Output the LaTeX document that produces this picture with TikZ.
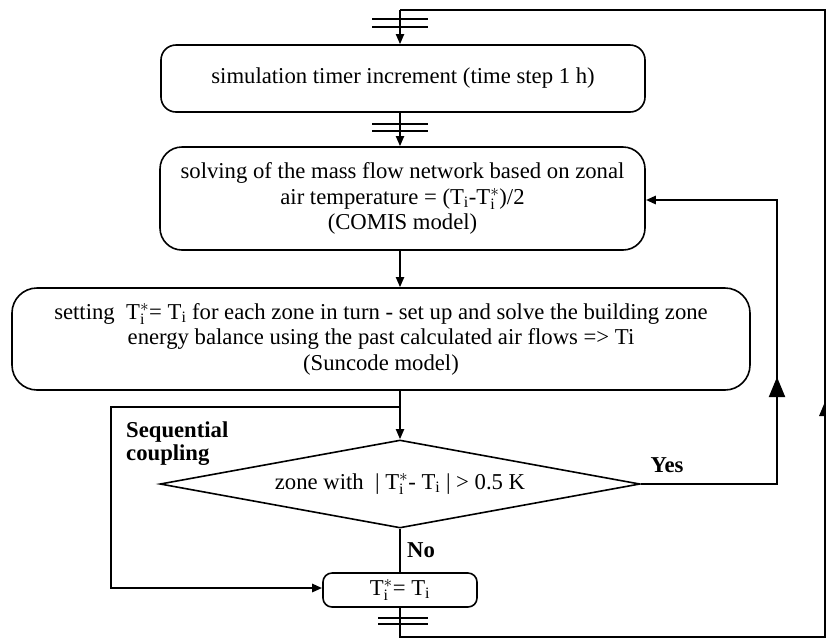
\documentclass[tikz,border=0pt]{standalone}
\usepackage{fontspec}
\setmainfont{Liberation Serif}
\usetikzlibrary{arrows.meta,shapes.geometric}
\newcommand\Tis{$\mathrm{T}_{\mathrm{i}}^{*}$}
\newcommand\Ti{$\mathrm{T}_{\mathrm{i}}$}
\begin{document}
\begin{tikzpicture}[x=1pt,y=-1pt,
  every node/.style={font=\fontsize{22.7}{25.5}\selectfont},
  box/.style={draw,line width=1.6pt,rounded corners=#1,inner sep=0pt,align=center},
  box/.default=20pt,
  conn/.style={line width=1.8pt},
  bold conn/.style={line width=2.6pt},
  arr/.style={-{Triangle[length=10pt,width=8pt]}},
  brk/.style={line width=1.3pt},
  lbl/.style={font=\fontsize{22.7}{23}\selectfont\bfseries,inner sep=0pt,align=left}]
\useasboundingbox (0,0) rectangle (826,641);
% boxes
\node[box=15pt,minimum width=484pt,minimum height=67pt] (b1) at (403,78.5)
  {simulation timer increment (time step 1 h)};
\node[box=22pt,minimum width=485pt,minimum height=103pt] (b2) at (402.5,198.5)
  {solving of the mass flow network based on zonal\\[0.5pt]
   air temperature = (\Ti-\Tis)/2\\
   (COMIS model)};
\node[box=25pt,minimum width=738pt,minimum height=102pt] (b3) at (381,339)
  {setting \ \Tis= \Ti\ for each zone in turn - set up and solve the building zone\\
   energy balance using the past calculated air flows => Ti\\
   (Suncode model)};
\node[draw,line width=1.6pt,diamond,shape aspect=5.45,minimum width=480pt,minimum height=88pt,inner sep=0pt] (dia) at (400,484)
  {zone with \ | \Tis- \Ti\ | > 0.5 K};
\node[box=9pt,minimum width=154pt,minimum height=34pt] (ti) at (400,590)
  {\Tis= \Ti};
% labels
\node[lbl,anchor=west] (seq) at (126,444) {Sequential\\coupling};
\node[lbl] (yes) at (667,465) {Yes};
\node[lbl,anchor=west] (no) at (407,550) {No};
% coordinates
\coordinate (tl) at (400,10);
\coordinate (tr) at (825,10);
\coordinate (br) at (825,637);
\coordinate (bl) at (400,637);
\coordinate (split) at (400,407);
\coordinate (sc) at (111,407);
\coordinate (sd) at (111,588);
\coordinate (y1) at (777,484);
\coordinate (y2) at (777,200);
% connectors
\draw[conn,arr] (tl) -- (tl |- b1.north);
\draw[conn,arr] (b1.south -| tl) -- (b2.north -| tl);
\draw[conn,arr] (b2.south -| tl) -- (b3.north -| tl);
\draw[conn,arr] (b3.south -| tl) -- (dia.north);
\draw[bold conn,arr,line join=miter] (split) -- (sc) -- (sd) -- (sd -| ti.west);
\draw[bold conn,arr] (dia.east) -- (y1) -- (y2) -- (y2 -| b2.east);
\draw[-{Triangle[length=20pt,width=16pt]},line width=2pt] (777,400) -- (777,377);
\draw[conn] (dia.south) -- (ti.north);
\draw[conn] (ti.south) -- (bl) -- (br) -- (tr) -- (tl);
% cropped arrowhead at the right edge
\fill (819,416) -- (827,397) -- (835,416) -- cycle;
% break marks
\draw[brk] (372,19) -- (428,19) (372,27) -- (428,27);
\draw[brk] (372,124) -- (428,124) (372,131) -- (428,131);
\draw[brk] (378,618) -- (428,618) (378,624) -- (428,624);
\end{tikzpicture}
\end{document}
